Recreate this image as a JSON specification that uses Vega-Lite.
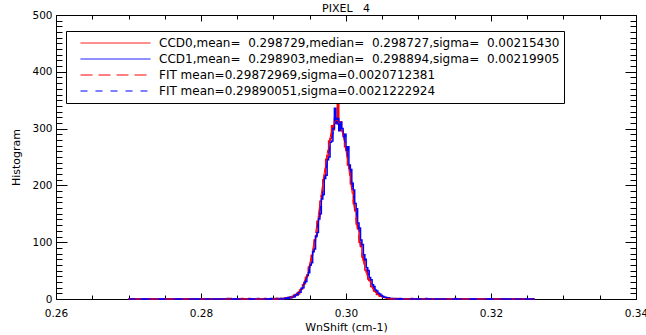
{
  "$schema": "https://vega.github.io/schema/vega-lite/v6.json",
  "width": 580,
  "height": 284,
  "autosize": "none",
  "padding": {"left": 56, "top": 15, "right": 10, "bottom": 36},
  "background": "white",
  "title": {"text": "PIXEL\u00a0\u00a0 4", "font": "DejaVu Sans", "fontSize": 11, "fontWeight": "normal", "color": "black", "offset": -4},
  "config": {
    "view": {"stroke": null},
    "axis": {"domainColor": "black", "tickColor": "black", "labelColor": "black", "titleColor": "black", "labelFont": "DejaVu Sans", "titleFont": "DejaVu Sans", "labelFontSize": 10.5, "titleFontSize": 11, "titleFontWeight": "normal", "grid": false, "domainWidth": 1, "tickWidth": 1},
    "legend": {"orient": "none", "legendX": 10, "legendY": 16, "strokeColor": "black", "fillColor": "white", "padding": 4,
      "symbolType": "stroke", "symbolSize": 4900, "symbolStrokeWidth": 1, "symbolOpacity": 1, "symbolOffset": 10, "labelOffset": 8, "clipHeight": 16, "rowPadding": 0,
      "labelFont": "DejaVu Sans", "labelFontSize": 12, "labelColor": "black", "labelLimit": 1000}
  },
  "datasets": {
    "hist": [
      {"x":0.2700,"c":0,"s":"CCD0"},{"x":0.2840,"c":1,"s":"CCD0"},{"x":0.2842,"c":0,"s":"CCD0"},{"x":0.2856,"c":1,"s":"CCD0"},{"x":0.2858,"c":0,"s":"CCD0"},{"x":0.2866,"c":1,"s":"CCD0"},{"x":0.2868,"c":0,"s":"CCD0"},{"x":0.2888,"c":1,"s":"CCD0"},{"x":0.2890,"c":0,"s":"CCD0"},{"x":0.2902,"c":1,"s":"CCD0"},{"x":0.2904,"c":0,"s":"CCD0"},{"x":0.2906,"c":1,"s":"CCD0"},{"x":0.2908,"c":0,"s":"CCD0"},{"x":0.2910,"c":1,"s":"CCD0"},{"x":0.2912,"c":0,"s":"CCD0"},{"x":0.2914,"c":1,"s":"CCD0"},{"x":0.2916,"c":2,"s":"CCD0"},{"x":0.2918,"c":1,"s":"CCD0"},{"x":0.2920,"c":3,"s":"CCD0"},{"x":0.2922,"c":2,"s":"CCD0"},{"x":0.2924,"c":4,"s":"CCD0"},{"x":0.2926,"c":3,"s":"CCD0"},{"x":0.2928,"c":7,"s":"CCD0"},{"x":0.2930,"c":6,"s":"CCD0"},{"x":0.2932,"c":10,"s":"CCD0"},{"x":0.2934,"c":9,"s":"CCD0"},{"x":0.2936,"c":16,"s":"CCD0"},{"x":0.2938,"c":17,"s":"CCD0"},{"x":0.2940,"c":25,"s":"CCD0"},{"x":0.2942,"c":27,"s":"CCD0"},{"x":0.2944,"c":38,"s":"CCD0"},{"x":0.2946,"c":41,"s":"CCD0"},{"x":0.2948,"c":56,"s":"CCD0"},{"x":0.2950,"c":60,"s":"CCD0"},{"x":0.2952,"c":77,"s":"CCD0"},{"x":0.2954,"c":84,"s":"CCD0"},{"x":0.2956,"c":104,"s":"CCD0"},{"x":0.2958,"c":112,"s":"CCD0"},{"x":0.2960,"c":137,"s":"CCD0"},{"x":0.2962,"c":146,"s":"CCD0"},{"x":0.2964,"c":172,"s":"CCD0"},{"x":0.2966,"c":182,"s":"CCD0"},{"x":0.2968,"c":210,"s":"CCD0"},{"x":0.2970,"c":218,"s":"CCD0"},{"x":0.2972,"c":246,"s":"CCD0"},{"x":0.2974,"c":252,"s":"CCD0"},{"x":0.2976,"c":278,"s":"CCD0"},{"x":0.2978,"c":282,"s":"CCD0"},{"x":0.2980,"c":305,"s":"CCD0"},{"x":0.2982,"c":298,"s":"CCD0"},{"x":0.2984,"c":318,"s":"CCD0"},{"x":0.2986,"c":309,"s":"CCD0"},{"x":0.2988,"c":348,"s":"CCD0"},{"x":0.2990,"c":301,"s":"CCD0"},{"x":0.2992,"c":312,"s":"CCD0"},{"x":0.2994,"c":296,"s":"CCD0"},{"x":0.2996,"c":290,"s":"CCD0"},{"x":0.2998,"c":268,"s":"CCD0"},{"x":0.3000,"c":263,"s":"CCD0"},{"x":0.3002,"c":236,"s":"CCD0"},{"x":0.3004,"c":230,"s":"CCD0"},{"x":0.3006,"c":203,"s":"CCD0"},{"x":0.3008,"c":194,"s":"CCD0"},{"x":0.3010,"c":168,"s":"CCD0"},{"x":0.3012,"c":157,"s":"CCD0"},{"x":0.3014,"c":132,"s":"CCD0"},{"x":0.3016,"c":124,"s":"CCD0"},{"x":0.3018,"c":100,"s":"CCD0"},{"x":0.3020,"c":93,"s":"CCD0"},{"x":0.3022,"c":74,"s":"CCD0"},{"x":0.3024,"c":68,"s":"CCD0"},{"x":0.3026,"c":51,"s":"CCD0"},{"x":0.3028,"c":48,"s":"CCD0"},{"x":0.3030,"c":35,"s":"CCD0"},{"x":0.3032,"c":33,"s":"CCD0"},{"x":0.3034,"c":22,"s":"CCD0"},{"x":0.3036,"c":21,"s":"CCD0"},{"x":0.3038,"c":14,"s":"CCD0"},{"x":0.3040,"c":13,"s":"CCD0"},{"x":0.3042,"c":8,"s":"CCD0"},{"x":0.3044,"c":9,"s":"CCD0"},{"x":0.3046,"c":5,"s":"CCD0"},{"x":0.3048,"c":6,"s":"CCD0"},{"x":0.3050,"c":3,"s":"CCD0"},{"x":0.3052,"c":3,"s":"CCD0"},{"x":0.3054,"c":2,"s":"CCD0"},{"x":0.3056,"c":1,"s":"CCD0"},{"x":0.3058,"c":1,"s":"CCD0"},{"x":0.3060,"c":0,"s":"CCD0"},{"x":0.3062,"c":1,"s":"CCD0"},{"x":0.3064,"c":0,"s":"CCD0"},{"x":0.3070,"c":1,"s":"CCD0"},{"x":0.3072,"c":0,"s":"CCD0"},{"x":0.3090,"c":1,"s":"CCD0"},{"x":0.3092,"c":0,"s":"CCD0"},{"x":0.3150,"c":1,"s":"CCD0"},{"x":0.3152,"c":0,"s":"CCD0"},{"x":0.3260,"c":0,"s":"CCD0"},
      {"x":0.2700,"c":0,"s":"CCD1"},{"x":0.2836,"c":1,"s":"CCD1"},{"x":0.2838,"c":0,"s":"CCD1"},{"x":0.2878,"c":1,"s":"CCD1"},{"x":0.2880,"c":0,"s":"CCD1"},{"x":0.2896,"c":1,"s":"CCD1"},{"x":0.2898,"c":0,"s":"CCD1"},{"x":0.2904,"c":1,"s":"CCD1"},{"x":0.2906,"c":0,"s":"CCD1"},{"x":0.2910,"c":1,"s":"CCD1"},{"x":0.2912,"c":0,"s":"CCD1"},{"x":0.2914,"c":1,"s":"CCD1"},{"x":0.2916,"c":1,"s":"CCD1"},{"x":0.2918,"c":2,"s":"CCD1"},{"x":0.2920,"c":1,"s":"CCD1"},{"x":0.2922,"c":3,"s":"CCD1"},{"x":0.2924,"c":2,"s":"CCD1"},{"x":0.2926,"c":5,"s":"CCD1"},{"x":0.2928,"c":4,"s":"CCD1"},{"x":0.2930,"c":8,"s":"CCD1"},{"x":0.2932,"c":7,"s":"CCD1"},{"x":0.2934,"c":12,"s":"CCD1"},{"x":0.2936,"c":12,"s":"CCD1"},{"x":0.2938,"c":19,"s":"CCD1"},{"x":0.2940,"c":20,"s":"CCD1"},{"x":0.2942,"c":29,"s":"CCD1"},{"x":0.2944,"c":31,"s":"CCD1"},{"x":0.2946,"c":42,"s":"CCD1"},{"x":0.2948,"c":46,"s":"CCD1"},{"x":0.2950,"c":60,"s":"CCD1"},{"x":0.2952,"c":64,"s":"CCD1"},{"x":0.2954,"c":83,"s":"CCD1"},{"x":0.2956,"c":88,"s":"CCD1"},{"x":0.2958,"c":110,"s":"CCD1"},{"x":0.2960,"c":117,"s":"CCD1"},{"x":0.2962,"c":141,"s":"CCD1"},{"x":0.2964,"c":150,"s":"CCD1"},{"x":0.2966,"c":176,"s":"CCD1"},{"x":0.2968,"c":184,"s":"CCD1"},{"x":0.2970,"c":212,"s":"CCD1"},{"x":0.2972,"c":218,"s":"CCD1"},{"x":0.2974,"c":245,"s":"CCD1"},{"x":0.2976,"c":250,"s":"CCD1"},{"x":0.2978,"c":276,"s":"CCD1"},{"x":0.2980,"c":278,"s":"CCD1"},{"x":0.2982,"c":300,"s":"CCD1"},{"x":0.2984,"c":336,"s":"CCD1"},{"x":0.2986,"c":310,"s":"CCD1"},{"x":0.2988,"c":318,"s":"CCD1"},{"x":0.2990,"c":296,"s":"CCD1"},{"x":0.2992,"c":311,"s":"CCD1"},{"x":0.2994,"c":300,"s":"CCD1"},{"x":0.2996,"c":286,"s":"CCD1"},{"x":0.2998,"c":290,"s":"CCD1"},{"x":0.3000,"c":262,"s":"CCD1"},{"x":0.3002,"c":268,"s":"CCD1"},{"x":0.3004,"c":236,"s":"CCD1"},{"x":0.3006,"c":228,"s":"CCD1"},{"x":0.3008,"c":204,"s":"CCD1"},{"x":0.3010,"c":192,"s":"CCD1"},{"x":0.3012,"c":168,"s":"CCD1"},{"x":0.3014,"c":159,"s":"CCD1"},{"x":0.3016,"c":134,"s":"CCD1"},{"x":0.3018,"c":125,"s":"CCD1"},{"x":0.3020,"c":104,"s":"CCD1"},{"x":0.3022,"c":96,"s":"CCD1"},{"x":0.3024,"c":78,"s":"CCD1"},{"x":0.3026,"c":70,"s":"CCD1"},{"x":0.3028,"c":55,"s":"CCD1"},{"x":0.3030,"c":50,"s":"CCD1"},{"x":0.3032,"c":38,"s":"CCD1"},{"x":0.3034,"c":34,"s":"CCD1"},{"x":0.3036,"c":25,"s":"CCD1"},{"x":0.3038,"c":22,"s":"CCD1"},{"x":0.3040,"c":16,"s":"CCD1"},{"x":0.3042,"c":14,"s":"CCD1"},{"x":0.3044,"c":10,"s":"CCD1"},{"x":0.3046,"c":9,"s":"CCD1"},{"x":0.3048,"c":6,"s":"CCD1"},{"x":0.3050,"c":5,"s":"CCD1"},{"x":0.3052,"c":3,"s":"CCD1"},{"x":0.3054,"c":3,"s":"CCD1"},{"x":0.3056,"c":2,"s":"CCD1"},{"x":0.3058,"c":2,"s":"CCD1"},{"x":0.3060,"c":1,"s":"CCD1"},{"x":0.3062,"c":1,"s":"CCD1"},{"x":0.3064,"c":0,"s":"CCD1"},{"x":0.3066,"c":1,"s":"CCD1"},{"x":0.3068,"c":0,"s":"CCD1"},{"x":0.3074,"c":1,"s":"CCD1"},{"x":0.3076,"c":0,"s":"CCD1"},{"x":0.3110,"c":1,"s":"CCD1"},{"x":0.3112,"c":0,"s":"CCD1"},{"x":0.3260,"c":0,"s":"CCD1"}
    ],
    "fit": [
      {"x":0.2700,"v":0,"s":"FIT0"},{"x":0.2900,"v":0.04,"s":"FIT0"},{"x":0.2904,"v":0.1,"s":"FIT0"},{"x":0.2908,"v":0.2,"s":"FIT0"},{"x":0.2912,"v":0.4,"s":"FIT0"},{"x":0.2916,"v":0.8,"s":"FIT0"},{"x":0.2920,"v":1.6,"s":"FIT0"},{"x":0.2924,"v":2.9,"s":"FIT0"},{"x":0.2928,"v":5.2,"s":"FIT0"},{"x":0.2932,"v":8.9,"s":"FIT0"},{"x":0.2936,"v":14.6,"s":"FIT0"},{"x":0.2940,"v":23.1,"s":"FIT0"},{"x":0.2944,"v":35.3,"s":"FIT0"},{"x":0.2948,"v":51.9,"s":"FIT0"},{"x":0.2952,"v":73.6,"s":"FIT0"},{"x":0.2956,"v":100.5,"s":"FIT0"},{"x":0.2960,"v":132,"s":"FIT0"},{"x":0.2964,"v":167.1,"s":"FIT0"},{"x":0.2968,"v":203.9,"s":"FIT0"},{"x":0.2972,"v":239.7,"s":"FIT0"},{"x":0.2976,"v":271.4,"s":"FIT0"},{"x":0.2980,"v":296.0,"s":"FIT0"},{"x":0.2984,"v":311.0,"s":"FIT0"},{"x":0.2986,"v":314.4,"s":"FIT0"},{"x":0.2988,"v":314.8,"s":"FIT0"},{"x":0.2992,"v":307,"s":"FIT0"},{"x":0.2996,"v":288.4,"s":"FIT0"},{"x":0.3000,"v":261,"s":"FIT0"},{"x":0.3004,"v":227.5,"s":"FIT0"},{"x":0.3008,"v":191,"s":"FIT0"},{"x":0.3012,"v":154.6,"s":"FIT0"},{"x":0.3016,"v":120.5,"s":"FIT0"},{"x":0.3020,"v":90.4,"s":"FIT0"},{"x":0.3024,"v":65.4,"s":"FIT0"},{"x":0.3028,"v":45.6,"s":"FIT0"},{"x":0.3032,"v":30.6,"s":"FIT0"},{"x":0.3036,"v":19.8,"s":"FIT0"},{"x":0.3040,"v":12.3,"s":"FIT0"},{"x":0.3044,"v":7.4,"s":"FIT0"},{"x":0.3048,"v":4.3,"s":"FIT0"},{"x":0.3052,"v":2.4,"s":"FIT0"},{"x":0.3056,"v":1.3,"s":"FIT0"},{"x":0.3060,"v":0.7,"s":"FIT0"},{"x":0.3064,"v":0.3,"s":"FIT0"},{"x":0.3068,"v":0.2,"s":"FIT0"},{"x":0.3072,"v":0.1,"s":"FIT0"},{"x":0.3260,"v":0,"s":"FIT0"},
      {"x":0.2700,"v":0,"s":"FIT1"},{"x":0.2900,"v":0.05,"s":"FIT1"},{"x":0.2904,"v":0.1,"s":"FIT1"},{"x":0.2908,"v":0.2,"s":"FIT1"},{"x":0.2912,"v":0.4,"s":"FIT1"},{"x":0.2916,"v":0.8,"s":"FIT1"},{"x":0.2920,"v":1.6,"s":"FIT1"},{"x":0.2924,"v":2.8,"s":"FIT1"},{"x":0.2928,"v":4.9,"s":"FIT1"},{"x":0.2932,"v":8.3,"s":"FIT1"},{"x":0.2936,"v":13.6,"s":"FIT1"},{"x":0.2940,"v":21.4,"s":"FIT1"},{"x":0.2944,"v":32.5,"s":"FIT1"},{"x":0.2948,"v":47.6,"s":"FIT1"},{"x":0.2952,"v":67.4,"s":"FIT1"},{"x":0.2956,"v":91.9,"s":"FIT1"},{"x":0.2960,"v":121,"s":"FIT1"},{"x":0.2964,"v":153.9,"s":"FIT1"},{"x":0.2968,"v":188.7,"s":"FIT1"},{"x":0.2972,"v":223.4,"s":"FIT1"},{"x":0.2976,"v":255.4,"s":"FIT1"},{"x":0.2980,"v":281.5,"s":"FIT1"},{"x":0.2984,"v":299.6,"s":"FIT1"},{"x":0.2988,"v":307.7,"s":"FIT1"},{"x":0.2990,"v":307.7,"s":"FIT1"},{"x":0.2994,"v":299.6,"s":"FIT1"},{"x":0.2998,"v":281.5,"s":"FIT1"},{"x":0.3002,"v":255.4,"s":"FIT1"},{"x":0.3006,"v":223.4,"s":"FIT1"},{"x":0.3010,"v":188.7,"s":"FIT1"},{"x":0.3014,"v":153.9,"s":"FIT1"},{"x":0.3018,"v":121,"s":"FIT1"},{"x":0.3022,"v":91.9,"s":"FIT1"},{"x":0.3026,"v":67.4,"s":"FIT1"},{"x":0.3030,"v":47.6,"s":"FIT1"},{"x":0.3034,"v":32.5,"s":"FIT1"},{"x":0.3038,"v":21.4,"s":"FIT1"},{"x":0.3042,"v":13.6,"s":"FIT1"},{"x":0.3046,"v":8.3,"s":"FIT1"},{"x":0.3050,"v":4.9,"s":"FIT1"},{"x":0.3054,"v":2.8,"s":"FIT1"},{"x":0.3058,"v":1.6,"s":"FIT1"},{"x":0.3062,"v":0.8,"s":"FIT1"},{"x":0.3066,"v":0.4,"s":"FIT1"},{"x":0.3070,"v":0.2,"s":"FIT1"},{"x":0.3074,"v":0.1,"s":"FIT1"},{"x":0.3260,"v":0,"s":"FIT1"}
    ]
  },
  "layer": [
    {
      "data": {"name": "hist"},
      "mark": {"type": "line", "interpolate": "step-after", "strokeWidth": 1.5, "opacity": 1},
      "encoding": {
        "x": {"field": "x", "type": "quantitative", "scale": {"domain": [0.26, 0.34], "nice": false, "zero": false},
          "axis": {"orient": "bottom", "title": "WnShift (cm-1)", "values": [0.26,0.265,0.27,0.275,0.28,0.285,0.29,0.295,0.3,0.305,0.31,0.315,0.32,0.325,0.33,0.335,0.34],
            "labelExpr": "abs(datum.value*50 - round(datum.value*50)) < 0.001 ? format(datum.value, '.2f') : ''",
            "tickSize": {"condition": {"test": "abs(datum.value*50 - round(datum.value*50)) < 0.001", "value": -6}, "value": -4},
            "labelPadding": 15, "titlePadding": 1, "labelFlush": false, "labelOverlap": false}},
        "y": {"field": "c", "type": "quantitative", "scale": {"domain": [0, 500], "nice": false},
          "axis": {"orient": "left", "title": "Histogram", "values": [0,10,20,30,40,50,60,70,80,90,100,110,120,130,140,150,160,170,180,190,200,210,220,230,240,250,260,270,280,290,300,310,320,330,340,350,360,370,380,390,400,410,420,430,440,450,460,470,480,490,500],
            "labelExpr": "datum.value % 100 == 0 ? datum.value : ''",
            "tickSize": {"condition": {"test": "datum.value % 100 == 0", "value": -11}, "value": -6},
            "labelPadding": 15, "titlePadding": 10, "labelOverlap": false}},
        "color": {"field": "s", "type": "nominal",
          "scale": {"domain": ["CCD0", "CCD1", "FIT0", "FIT1"], "range": ["#ff0000", "#0000ff", "#ff0000", "#0000ff"]},
          "legend": {"title": null,
            "labelExpr": "datum.label == 'CCD0' ? 'CCD0,mean=\u00a0 0.298729,median=\u00a0 0.298727,sigma=\u00a0 0.00215430' : datum.label == 'CCD1' ? 'CCD1,mean=\u00a0 0.298903,median=\u00a0 0.298894,sigma=\u00a0 0.00219905' : datum.label == 'FIT0' ? 'FIT mean=0.29872969,sigma=0.0020712381' : 'FIT mean=0.29890051,sigma=0.0021222924'"}},
        "strokeDash": {"field": "s", "type": "nominal",
          "scale": {"domain": ["CCD0", "CCD1", "FIT0", "FIT1"], "range": [[1, 0], [1, 0], [12, 6], [7, 8]]},
          "legend": {"title": null,
            "labelExpr": "datum.label == 'CCD0' ? 'CCD0,mean=\u00a0 0.298729,median=\u00a0 0.298727,sigma=\u00a0 0.00215430' : datum.label == 'CCD1' ? 'CCD1,mean=\u00a0 0.298903,median=\u00a0 0.298894,sigma=\u00a0 0.00219905' : datum.label == 'FIT0' ? 'FIT mean=0.29872969,sigma=0.0020712381' : 'FIT mean=0.29890051,sigma=0.0021222924'"}}
      }
    },
    {
      "data": {"name": "fit"},
      "mark": {"type": "line", "strokeWidth": 1, "opacity": 1},
      "encoding": {
        "x": {"field": "x", "type": "quantitative", "scale": {"domain": [0.26, 0.34], "nice": false, "zero": false},
          "axis": {"orient": "top", "title": null, "labels": false, "values": [0.26,0.265,0.27,0.275,0.28,0.285,0.29,0.295,0.3,0.305,0.31,0.315,0.32,0.325,0.33,0.335,0.34],
            "tickSize": {"condition": {"test": "abs(datum.value*50 - round(datum.value*50)) < 0.001", "value": -6}, "value": -4}}},
        "y": {"field": "v", "type": "quantitative", "scale": {"domain": [0, 500], "nice": false},
          "axis": {"orient": "right", "title": null, "labels": false, "values": [0,10,20,30,40,50,60,70,80,90,100,110,120,130,140,150,160,170,180,190,200,210,220,230,240,250,260,270,280,290,300,310,320,330,340,350,360,370,380,390,400,410,420,430,440,450,460,470,480,490,500],
            "tickSize": {"condition": {"test": "datum.value % 100 == 0", "value": -11}, "value": -6}}},
        "color": {"field": "s", "type": "nominal"},
        "strokeDash": {"field": "s", "type": "nominal"}
      }
    }
  ],
  "resolve": {"axis": {"x": "independent", "y": "independent"}}
}
